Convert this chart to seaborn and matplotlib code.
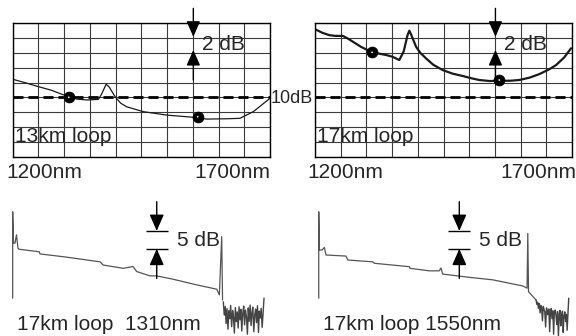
import seaborn as sns
import matplotlib.pyplot as plt

# --- top panels: spectra in grid divisions (x: 10 div = 1200..1700nm, y: 9 div) ---
wl13_x = [0.0, 0.5, 1.0, 1.5, 2.16, 2.5, 2.88, 3.33, 3.45, 3.63, 3.75, 3.98, 4.2, 4.43,
          5.08, 5.98, 7.02, 7.54, 8.3, 8.83, 9.35, 10.0]
wl13_y = [5.22, 4.98, 4.72, 4.48, 4.04, 3.88, 3.82, 3.86, 4.2, 4.88, 4.7, 4.04, 3.6, 3.36,
          3.03, 2.8, 2.65, 2.53, 2.55, 2.58, 3.03, 3.93]
mk13_x = [2.18, 7.19]
mk13_y = [4.0, 2.69]

wl17_x = [0.0, 0.3, 0.56, 0.8, 1.08, 1.3, 1.47, 1.8, 2.18, 2.5, 2.76, 3.0, 3.28, 3.45, 3.6,
          3.67, 3.75, 3.93, 4.1, 4.32, 4.6, 4.97, 5.35, 5.75, 6.1, 6.39, 6.8, 7.17, 7.6,
          7.95, 8.35, 8.73, 9.1, 9.38, 9.7, 9.96]
wl17_y = [8.6, 8.35, 8.2, 8.15, 8.15, 7.95, 7.76, 7.4, 7.08, 6.95, 6.86, 6.75, 6.52, 7.1, 8.2,
          8.5, 8.2, 7.42, 7.0, 6.63, 6.2, 5.84, 5.6, 5.44, 5.28, 5.17, 5.1, 5.12, 5.12,
          5.17, 5.33, 5.57, 5.88, 6.18, 6.7, 7.31]
mk17_x = [2.22, 7.17]
mk17_y = [7.04, 5.17]
ref_level = 4  # 10dB line

# --- bottom panels: OTDR traces (km, dB) ---
otdr1310_x = [0, 0, 0.07, 0.19, 0.31, 0.43, 0.51, 2.16, 2.22, 4.39, 7.10, 7.37, 8.99, 9.78,
              10.08, 11.16, 11.71, 13.06, 14.96, 16.59, 16.80, 16.99, 17.06]
otdr1310_y = [0.5, 24.5, 15.8, 15.8, 18.1, 14.4, 14.1, 13.4, 12.8, 11.9, 10.6, 9.7, 8.8, 9.3,
              7.9, 6.7, 6.7, 5.75, 4.2, 3.0, 1.4, 17.6, 0.0]
noise1310_x = [17.12, 17.2, 17.28, 17.35, 17.42, 17.5, 17.57, 17.65, 17.72, 17.8, 17.88, 17.95,
               18.02, 18.1, 18.18, 18.25, 18.33, 18.4, 18.48, 18.55, 18.62, 18.7, 18.78, 18.85,
               18.92, 19.0, 19.08, 19.15, 19.22, 19.3, 19.38, 19.45, 19.52, 19.6, 19.68, 19.75,
               19.82, 19.9, 19.98, 20.05, 20.12, 20.2, 20.28, 20.35, 20.43]
noise1310_y = [-0.5, -4.2, -1.8, -6.5, -2.4, -8.1, -3.0, -5.2, -1.5, -7.4, -2.9, -4.8, -9.2, -2.1,
               -6.0, -3.3, -7.8, -1.9, -5.5, -2.6, -8.6, -3.8, -1.7, -6.9, -2.8, -4.6, -9.5, -2.2,
               -5.9, -1.4, -7.1, -3.5, -2.0, -8.8, -4.0, -2.5, -6.3, -1.6, -9.0, -3.1, -5.0, -2.3,
               -7.6, -3.9, 0.5]

otdr1550_x = [0, 0, 0.05, 0.27, 0.46, 0.59, 2.22, 2.36, 4.39, 4.52, 7.37, 7.42, 8.99, 9.80,
              9.94, 10.08, 12.24, 14.15, 16.59, 16.94, 17.0, 17.06, 17.67]
otdr1550_y = [0.5, 24.5, 13.9, 13.9, 14.6, 12.5, 12.2, 11.1, 10.6, 10.2, 9.25, 8.8, 8.1, 8.1,
              8.9, 7.2, 6.3, 5.6, 3.9, 3.3, 18.5, 2.3, 0.0]
noise1550_x = [17.67, 17.74, 17.8, 17.86, 17.93, 18.0, 18.06, 18.12, 18.19, 18.26, 18.32, 18.38,
               18.45, 18.52, 18.58, 18.64, 18.71, 18.78, 18.84, 18.9, 18.97, 19.04, 19.1, 19.16,
               19.23, 19.3, 19.36, 19.42, 19.49, 19.56, 19.62, 19.68, 19.75, 19.82, 19.88, 19.94,
               20.01, 20.08, 20.14, 20.2, 20.27, 20.33]
noise1550_y = [0.0, -1.2, -0.6, -2.3, -1.0, -3.6, -1.5, -2.0, -5.8, -1.8, -2.6, -3.2, -7.5, -2.2,
               -3.0, -4.1, -2.5, -8.8, -3.4, -2.4, -5.2, -3.0, -9.5, -3.6, -2.8, -4.5, -6.8, -3.2,
               -10.0, -3.9, -2.9, -7.2, -4.2, -3.1, -9.0, -4.6, -3.3, -6.0, -4.0, -8.4, -3.5, 0.5]

sns.set_style('white')
plt.rcParams['font.family'] = ['Liberation Sans', 'DejaVu Sans']
FS = 15

fig = plt.figure(figsize=(5.76, 3.36), dpi=100)


def arrow(ax, x, y0, y1, hl, hw):
    ax.annotate('', xy=(x, y1), xytext=(x, y0), annotation_clip=False,
                arrowprops=dict(arrowstyle='-|>,head_length=%g,head_width=%g' % (hl, hw),
                                color='black', lw=1, mutation_scale=1,
                                shrinkA=0, shrinkB=0))


def spectrum_panel(rect, xs, ys, mx, my, lw, label, lab_l, lab_r):
    ax = fig.add_axes(rect)
    ax.set_xlim(0, 10)
    ax.set_ylim(0, 9)
    ax.set_xticks(range(11))
    ax.set_yticks(range(10))
    ax.tick_params(length=0, labelbottom=False, labelleft=False)
    ax.grid(True, color='#3a3a3a', lw=0.8)
    for s in ax.spines.values():
        s.set_color('black')
        s.set_linewidth(1)
    ax.axhline(ref_level, color='black', lw=2, dashes=(3.6, 1.8))
    sns.lineplot(x=xs, y=ys, ax=ax, sort=False, estimator=None, color='#1a1a1a', lw=lw)
    sns.scatterplot(x=mx, y=my, ax=ax, color='black', s=60, edgecolor='black', zorder=5)
    sns.scatterplot(x=mx, y=my, ax=ax, color='white', s=1.5, edgecolor='none', zorder=6)
    arrow(ax, 7.02, 10.01, 8.09, 9.5, 4.2)
    arrow(ax, 7.02, 5.17, 7.2, 9.5, 4.2)
    ax.text(7.35, 7.6, '2 dB', fontsize=FS, va='center', ha='left')
    ax.text(0.08, 1.32, label, fontsize=FS, va='center', ha='left')
    ax.text(lab_l, -1.05, '1200nm', fontsize=FS, va='center', ha='left', clip_on=False)
    ax.text(lab_r, -1.05, '1700nm', fontsize=FS, va='center', ha='right', clip_on=False)
    return ax


ax1 = spectrum_panel([0.02205, 0.5342, 0.4467, 0.3964], wl13_x, wl13_y, mk13_x, mk13_y,
                     0.9, '13km loop', -0.25, 10.0)
ax2 = spectrum_panel([0.5469, 0.5342, 0.4462, 0.3964], wl17_x, wl17_y, mk17_x, mk17_y,
                     1.6, '17km loop', -0.3, 10.16)
ax1.text(10.86, 3.95, '10dB', fontsize=13, va='center', ha='center', clip_on=False)


def otdr_panel(rect, xlim, xs, ys, nx, ny, ax_x, label):
    ax = fig.add_axes(rect)
    ax.set_xlim(*xlim)
    ax.set_ylim(-10, 28.89)
    ax.axis('off')
    sns.lineplot(x=xs, y=ys, ax=ax, sort=False, estimator=None, color='#555555', lw=0.9)
    sns.lineplot(x=nx, y=ny, ax=ax, sort=False, estimator=None, color='#444444', lw=1.0)
    ax.hlines([19.2, 14.2], ax_x - 0.88, ax_x + 0.88, color='black', lw=1)
    arrow(ax, ax_x, 27.3, 19.2, 10, 4.4)
    arrow(ax, ax_x, 6.0, 14.2, 10, 4.4)
    ax.text(ax_x + 1.62, 16.4, '5 dB', fontsize=FS, va='center', ha='left')
    ax.text(0.35, -6.8, label, fontsize=FS, va='center', ha='left')
    return ax


otdr_panel([0, 0, 0.5, 0.4167], (-1.03, 22.38), otdr1310_x, otdr1310_y,
           noise1310_x, noise1310_y, 11.71, '17km loop  1310nm')
otdr_panel([0.5, 0, 0.5, 0.4167], (-2.50, 20.92), otdr1550_x, otdr1550_y,
           noise1550_x, noise1550_y, 11.43, '17km loop 1550nm')

fig.savefig('out.png', dpi=100)
